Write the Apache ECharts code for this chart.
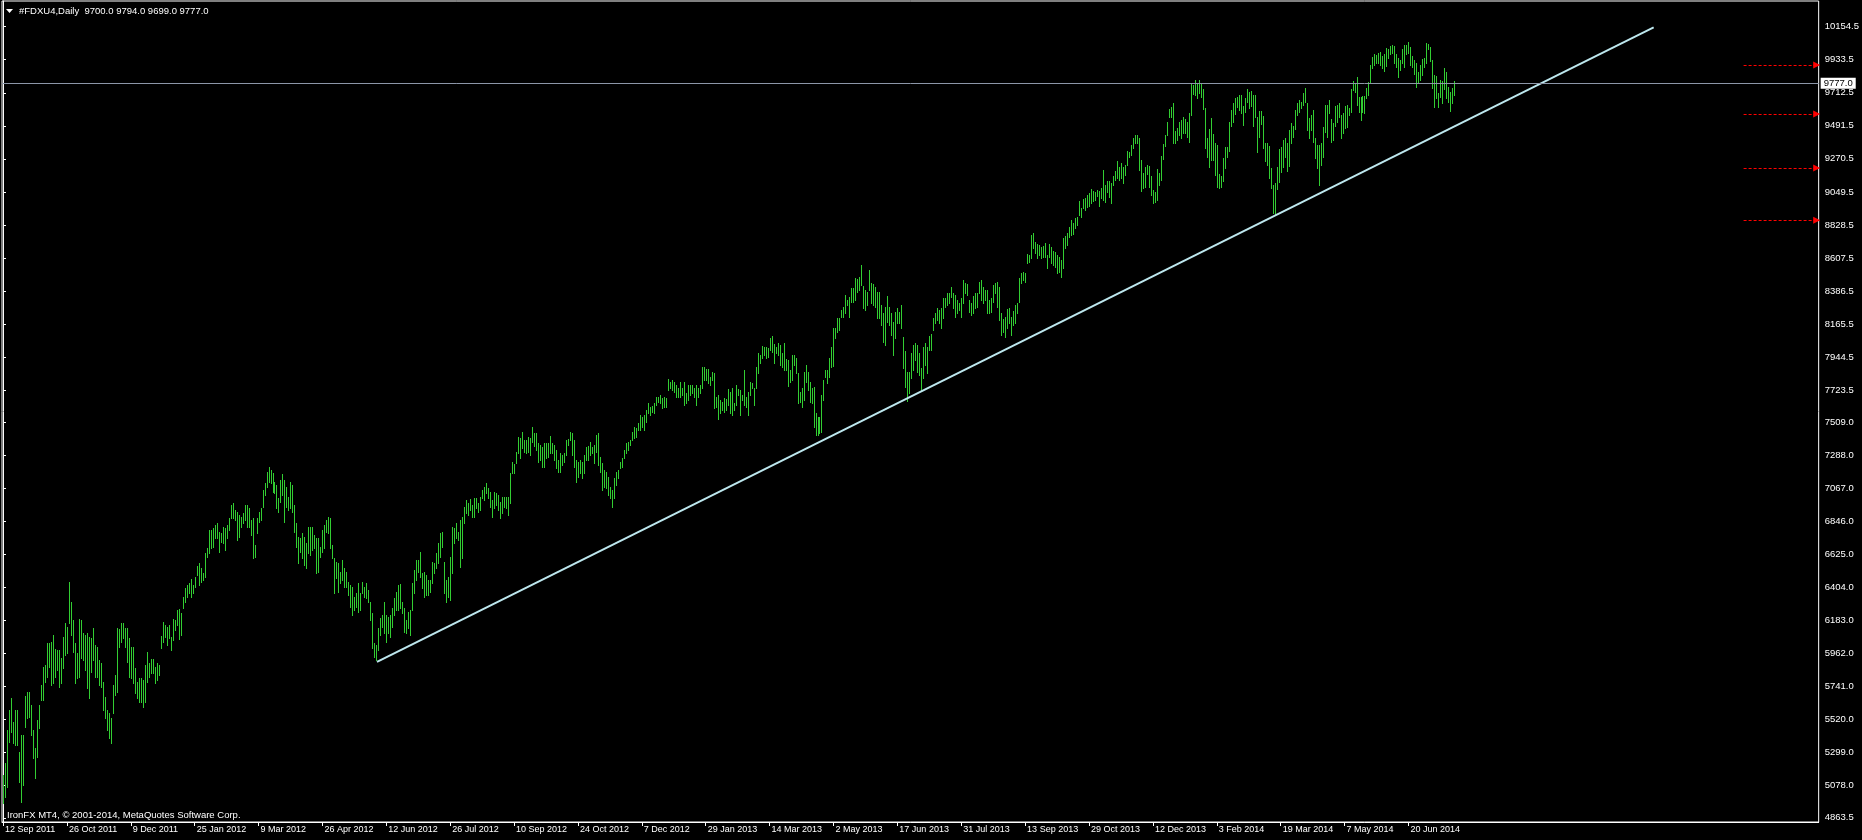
<!DOCTYPE html>
<html><head><meta charset="utf-8">
<script src="https://cdn.jsdelivr.net/npm/echarts@6/dist/echarts.min.js"></script>
<style>html,body{margin:0;padding:0;background:#000}#c{width:1862px;height:840px}</style>
</head><body><div id="c"></div>
<script>
const symbolTitle = '#FDXU4,Daily  9700.0 9794.0 9699.0 9777.0';
const footerText = 'IronFX MT4, \u00A9 2001-2014, MetaQuotes Software Corp.';
const xLabels = ['12 Sep 2011','26 Oct 2011','9 Dec 2011','25 Jan 2012','9 Mar 2012','26 Apr 2012','12 Jun 2012','26 Jul 2012','10 Sep 2012','24 Oct 2012','7 Dec 2012','29 Jan 2013','14 Mar 2013','2 May 2013','17 Jun 2013','31 Jul 2013','13 Sep 2013','29 Oct 2013','12 Dec 2013','3 Feb 2014','19 Mar 2014','7 May 2014','20 Jun 2014'];
const barsPerLabel = 32;
const yTicks = [10154.5,9933.5,9712.5,9491.5,9270.5,9049.5,8828.5,8607.5,8386.5,8165.5,7944.5,7723.5,7509.0,7288.0,7067.0,6846.0,6625.0,6404.0,6183.0,5962.0,5741.0,5520.0,5299.0,5078.0,4863.5];
const highs = [
5150,5228,5451,5585,5663,5507,5585,5585,5306,5418,
5418,5678,5707,5707,5618,5451,5328,5518,5618,5752,
5875,5886,6031,6035,6042,6086,5990,5986,5986,5930,
6075,6164,6142,6438,6309,6187,6031,5964,6191,6187,
6097,6086,6097,6075,6064,6131,6020,6008,5919,5897,
5774,5674,5585,5563,5529,5752,5819,6131,6124,6164,
6164,6131,6131,6064,6008,6008,5863,5774,5797,5797,
5785,5886,5975,5897,5924,5924,5875,5897,5886,6080,
6175,6153,6142,6153,6075,6191,6187,6253,6258,6236,
6343,6398,6421,6432,6459,6421,6476,6548,6570,6532,
6499,6632,6666,6788,6788,6800,6822,6837,6777,6766,
6811,6800,6822,6866,6956,6967,6922,6911,6889,6878,
6900,6956,6956,6933,6855,6866,6688,6866,6911,6933,
7056,7100,7179,7207,7190,7167,7112,7089,7000,7123,
7163,7123,7078,7011,7112,7089,6956,6833,6744,6733,
6766,6744,6699,6811,6811,6811,6755,6733,6733,6677,
6788,6822,6855,6878,6866,6688,6599,6577,6566,6510,
6588,6532,6510,6443,6421,6410,6343,6365,6432,6365,
6443,6410,6436,6387,6309,6231,6031,6020,6131,6198,
6220,6309,6220,6209,
6220,6265,6332,6376,6421,6427,6309,6265,6187,6242,
6254,6432,6521,6588,6588,6644,6499,6510,6488,6454,
6454,6577,6566,6633,6699,6766,6777,6577,6454,6476,
6610,6811,6800,6833,6777,6855,6878,6945,6989,6967,
6994,6956,7000,7000,6967,7011,7056,7078,7100,7067,
7045,6989,7045,7034,7023,6978,7011,7011,7011,7011,
7167,7245,7230,7312,7413,7401,7446,7390,7390,7408,
7401,7480,7439,7435,7373,7357,7346,7373,7373,7373,
7417,7373,7357,7323,7257,7301,7290,7306,7390,7395,
7446,7435,7390,7257,7245,7257,7245,7290,7346,7350,
7379,7346,7357,7424,7435,7279,7234,7190,7179,7145,
7078,7056,7134,7179,7190,7245,7268,7323,7368,7379,
7390,7446,7480,7468,7502,7558,7546,7558,7591,7636,
7613,7618,7636,7680,7680,7691,7669,7680,7669,7796,
7780,7792,7780,7758,7736,7780,7736,7780,7702,7758,
7758,7758,7736,7758,7736,7758,7876,7876,7863,7863,
7814,7847,7836,7680,7691,7658,7647,7669,7662,7729,
7714,7736,7636,7758,7729,7725,7691,7858,7680,7714,
7780,7769,7736,7881,7970,
7959,8019,8014,8014,8003,8070,8086,8032,8014,8037,
8025,7970,8041,7930,7925,7858,7959,7959,7936,7836,
7713,7736,7847,7892,7847,7780,7736,7747,7568,7546,
7546,7691,7791,7858,7858,7936,8014,8137,8137,8204,
8204,8259,8282,8360,8326,8349,8404,8404,8471,8465,
8482,8560,8420,8393,8382,8527,8442,8433,8416,8382,
8382,8293,8237,8277,8353,8277,8242,8181,8248,8271,
8248,8293,8077,7988,7847,7847,7970,8025,8037,8025,
7970,7869,8014,8037,8014,8086,8099,8204,8237,8271,
8259,8271,8337,8337,8375,8371,8411,8371,8360,8326,
8304,8337,8460,8442,8433,8326,8304,8353,8371,8371,
8449,8460,8416,8393,8393,8326,8337,8427,8438,8449,
8416,8242,8197,8215,8264,8271,8215,8255,8293,8309,
8471,8505,8516,8509,8634,8627,8761,8772,8716,8701,
8694,8683,8687,8710,8627,8701,8683,8656,8650,8627,
8616,8594,8739,8754,8772,8817,8861,8839,8872,8884,
8991,8939,9000,9011,9028,9040,9066,9057,9051,9062,
9057,9073,9196,9095,9124,9124,9111,9156,9191,9258,
9218,9240,9218,9229,9325,
9319,9363,9408,9430,9430,9408,9263,9178,9218,9229,
9223,9156,9062,9051,9200,9174,9290,9370,9430,9519,
9602,9615,9642,9459,9475,9519,9530,9553,9535,9519,
9575,9775,9764,9798,9775,9798,9775,9735,9608,9408,
9468,9541,9437,9379,9363,9169,9156,9274,9348,9352,
9519,9597,9642,9675,9686,9697,9697,9624,9675,9735,
9720,9726,9697,9697,9548,9593,9593,9557,9379,9379,
9356,9207,9096,9107,9218,9334,9352,9397,9408,9374,
9463,9508,9490,9597,9646,9664,9653,9713,9742,9642,
9541,9564,9597,9408,9363,9363,9374,9486,9631,9631,
9664,9535,9508,9624,9631,9646,9564,9579,9624,9631,
9608,9735,9793,9780,9820,9686,9682,9691,9691,9742,
9787,9898,9954,9972,9965,9976,9987,9958,9972,10010,
10003,10025,10032,10025,9972,9943,9932,10003,10032,10032,
10050,10021,9958,9932,9914,9854,9898,9936,9943,10043,
10039,10016,9932,9831,9824,9713,9798,9793,9876,9853,
9753,9720,9742,9794];
const lows = [
4961,5005,5072,5373,5440,5362,5351,5351,5106,4972,
5083,5473,5529,5540,5418,5262,5128,5273,5462,5652,
5652,5774,5808,5875,5752,5763,5808,5852,5741,5763,
5863,5953,5964,6169,6086,5975,5763,5797,5808,5930,
5919,5852,5730,5663,5841,5919,5808,5808,5752,5741,
5585,5529,5451,5395,5362,5563,5685,5707,6008,6042,
6064,6008,5908,5808,5797,5763,5696,5663,5640,5640,
5607,5640,5774,5808,5830,5830,5763,5785,5819,5997,
6042,6075,6020,6064,5986,6053,6120,6153,6057,6086,
6265,6309,6343,6365,6343,6365,6410,6488,6421,6443,
6454,6476,6610,6632,6666,6677,6733,6733,6644,6710,
6699,6655,6733,6788,6866,6866,6855,6722,6744,6811,
6833,6855,6811,6811,6755,6599,6610,6766,6844,6855,
6944,7022,7078,7112,7100,7045,7034,6933,6911,6978,
7022,6844,6944,6922,6933,6911,6777,6677,6566,6644,
6599,6554,6532,6632,6621,6655,6666,6499,6510,6610,
6644,6666,6777,6766,6666,6599,6365,6465,6376,6432,
6454,6410,6410,6354,6276,6220,6253,6276,6242,6253,
6365,6343,6331,6309,6187,5997,5941,5919,5986,6086,
6142,6097,6042,6097,
6075,6142,6220,6254,6254,6265,6231,6109,6098,6131,
6087,6254,6365,6454,6510,6476,6398,6343,6354,6354,
6376,6432,6499,6532,6566,6610,6677,6365,6309,6343,
6320,6499,6699,6733,6722,6543,6599,6833,6900,6889,
6922,6878,6878,6933,6911,6922,7000,6989,7034,7000,
6945,6878,6933,6956,6922,6867,6900,6945,6933,6889,
6971,7167,7167,7234,7301,7268,7335,7312,7301,7312,
7290,7379,7350,7323,7245,7257,7212,7212,7268,7279,
7301,7306,7257,7201,7179,7179,7223,7245,7290,7357,
7390,7290,7212,7112,7145,7167,7134,7167,7257,7257,
7290,7301,7234,7312,7223,7179,7056,7078,7067,7023,
7000,6945,7000,7089,7134,7201,7212,7268,7301,7323,
7357,7390,7402,7413,7457,7457,7480,7457,7513,7569,
7558,7580,7569,7624,7647,7636,7602,7613,7613,7725,
7736,7725,7714,7680,7680,7680,7691,7624,7636,7658,
7691,7702,7680,7624,7680,7702,7736,7792,7792,7769,
7758,7792,7602,7613,7529,7569,7591,7580,7591,7624,
7569,7558,7591,7624,7691,7558,7658,7624,7613,7558,
7691,7736,7624,7736,7836,
7903,7936,7959,7936,7947,7992,7981,7907,7970,7959,
7892,7881,7858,7858,7751,7780,7791,7892,7836,7640,
7646,7613,7658,7780,7725,7646,7640,7479,7424,7424,
7435,7446,7658,7814,7769,7814,7881,7885,8070,8115,
8126,8215,8215,8237,8293,8215,8315,8315,8326,8382,
8393,8427,8271,8259,8293,8393,8309,8293,8282,8204,
8204,8159,8048,8025,8181,8159,8092,7959,8070,8170,
8170,8137,7869,7747,7651,7702,7802,7858,7925,7847,
7825,7720,7802,7892,7836,7992,7992,8126,8170,8193,
8170,8137,8204,8282,8293,8304,8349,8271,8215,8237,
8259,8215,8304,8371,8360,8248,8226,8242,8271,8282,
8371,8326,8304,8326,8237,8237,8248,8315,8371,8282,
8193,8092,8115,8081,8137,8170,8092,8159,8170,8237,
8315,8438,8460,8449,8576,8583,8605,8672,8638,8605,
8627,8605,8616,8616,8538,8616,8576,8560,8549,8505,
8516,8482,8538,8672,8694,8745,8761,8768,8806,8828,
8895,8884,8939,8928,8946,8955,8973,8991,8995,9022,
8955,9006,8995,8984,9051,9017,8977,9095,9129,9140,
9129,9140,9106,9162,9229,
9285,9296,9341,9379,9379,9196,9058,9073,9084,9169,
9084,9029,8978,8984,8995,9096,9129,9267,9356,9430,
9548,9553,9374,9374,9397,9430,9408,9441,9441,9414,
9385,9564,9704,9697,9675,9709,9686,9602,9341,9285,
9218,9263,9263,9162,9085,9073,9085,9125,9207,9281,
9325,9490,9519,9570,9615,9597,9575,9497,9586,9653,
9608,9624,9490,9553,9319,9414,9504,9341,9258,9229,
9140,9073,8906,8895,9067,9118,9185,9218,9285,9191,
9223,9374,9414,9468,9564,9586,9608,9631,9653,9463,
9408,9463,9385,9274,9207,9096,9229,9285,9452,9419,
9575,9385,9397,9490,9519,9553,9408,9441,9475,9486,
9564,9586,9731,9720,9631,9586,9530,9586,9579,9675,
9697,9775,9876,9898,9909,9914,9898,9876,9860,9891,
9943,9972,9976,9909,9887,9820,9865,9914,9887,9972,
9976,9898,9887,9838,9753,9787,9798,9831,9887,9909,
10003,9927,9742,9615,9675,9615,9682,9642,9735,9675,
9653,9593,9646,9699];
const lastClose = 9777.0;
const trendIdx = [187.35, 826.85];
const trendPrice = [5907, 10150];
const alertLevels = [9898, 9571, 9209, 8860];
const alertIdx = [871.9, 908.5];
const slots = 910;

const bars = highs.map((h, i) => [i, h, lows[i]]);
const xTickIdx = xLabels.map((_, i) => i * barsPerLabel);
const font = 'Liberation Sans';

const chart = echarts.init(document.getElementById('c'), null, {renderer: 'canvas'});
chart.setOption({
  backgroundColor: '#000',
  animation: false,
  grid: {left: 2, top: 1, width: 1820, height: 821, show: true, borderColor: '#fff', borderWidth: 1, backgroundColor: '#000'},
  xAxis: {
    type: 'value', min: -0.5, max: slots - 0.5,
    axisLine: {show: true, lineStyle: {color: '#fff'}},
    axisTick: {show: true, length: 4, lineStyle: {color: '#fff'}, customValues: xTickIdx},
    axisLabel: {customValues: xTickIdx, formatter: v => xLabels[Math.round(v / barsPerLabel)], color: '#fff', fontFamily: font, fontSize: 9, align: 'left', margin: 3, padding: [0, 0, 0, 2]},
    splitLine: {show: false}
  },
  yAxis: {
    type: 'value', position: 'right', min: 4835.5, max: 10326.3,
    axisLine: {show: true, lineStyle: {color: '#fff'}},
    axisTick: {show: true, length: 3, lineStyle: {color: '#fff'}, customValues: yTicks},
    axisLabel: {customValues: yTicks, formatter: v => v.toFixed(1), color: '#fff', fontFamily: font, fontSize: 9.5, margin: 6},
    splitLine: {show: false}
  },
  graphic: [
    {type: 'polygon', shape: {points: [[6, 9], [13, 9], [9.5, 13]]}, style: {fill: '#fff'}},
    {type: 'text', left: 19, top: 6, style: {text: symbolTitle, fill: '#fff', font: '9.5px "Liberation Sans"'}},
    {type: 'text', left: 7, top: 810, style: {text: footerText, fill: '#fff', font: '9.5px "Liberation Sans"'}}
  ],
  series: [
    {
      type: 'custom', data: bars, encode: {x: 0, y: [1, 2]}, clip: true,
      renderItem: (params, api) => {
        const k = api.value(0);
        const p1 = api.coord([k, api.value(1)]);
        const p2 = api.coord([k, api.value(2)]);
        const x = Math.round(p1[0]) + 0.5;
        return {type: 'line', shape: {x1: x, y1: Math.round(p1[1]), x2: x, y2: Math.round(p2[1]) + 1}, style: {stroke: '#32cd32', lineWidth: 1}};
      },
      markLine: {
        silent: true, symbol: ['none', 'none'],
        lineStyle: {color: '#8c96a8', width: 1, type: 'solid'},
        label: {show: true, position: 'end', distance: 2, formatter: () => lastClose.toFixed(1), backgroundColor: '#fff', color: '#000', fontFamily: font, fontSize: 9.5, padding: [1, 3, 0, 3]},
        data: [{yAxis: lastClose}]
      }
    },
    {
      type: 'line', data: trendIdx.map((k, i) => [k, trendPrice[i]]), symbol: 'none',
      lineStyle: {color: '#bde7ee', width: 2}, z: 3, silent: true
    },
    {
      type: 'line', data: [], silent: true,
      markLine: {
        silent: true, symbol: ['none', 'triangle'], symbolSize: 7,
        lineStyle: {color: '#ff0000', width: 1, type: [3, 2]},
        label: {show: false},
        data: alertLevels.map(v => [{coord: [alertIdx[0], v]}, {coord: [alertIdx[1], v]}])
      }
    }
  ]
});
</script>
</body></html>
